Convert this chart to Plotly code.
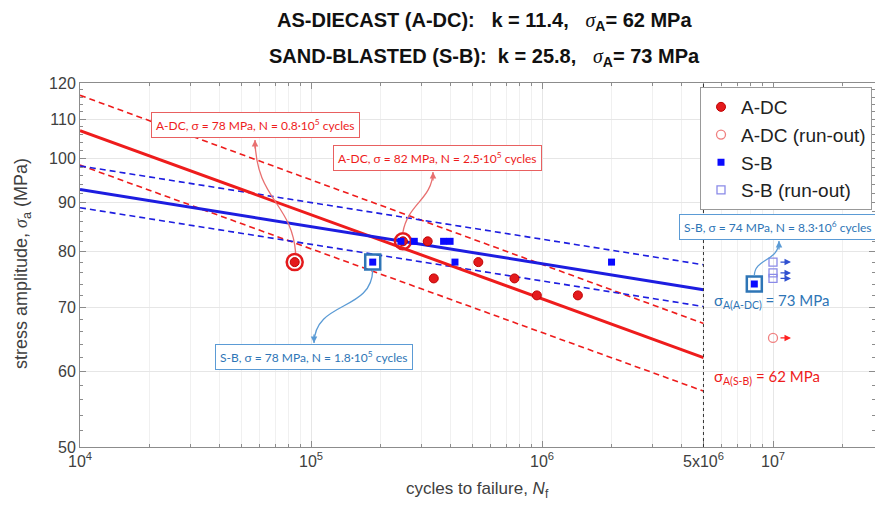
import math
import plotly.graph_objects as go

# ---------------- data ----------------
# fitted S-N lines (endpoints at N = 1e4 and N = 5e6)
N_line = [1e4, 5e6]
adc_mean = [107.0, 62.0]
adc_upper = [116.5, 67.3]
adc_lower = [98.5, 57.2]
sb_mean = [92.9, 73.0]
sb_upper = [98.3, 77.5]
sb_lower = [88.9, 70.1]

# A-DC failures
adc_N = [8.5e4, 2.5e5, 3.2e5, 3.4e5, 5.3e5, 7.6e5, 9.5e5, 1.43e6]
adc_S = [78, 82, 82, 75, 78, 75, 72, 72]
# A-DC run-outs
adc_ro_N = [1.0e7]
adc_ro_S = [65]
# S-B failures
sb_N = [1.85e5, 2.45e5, 2.8e5, 3.75e5, 4.0e5, 4.2e5, 2.0e6, 8.3e6]
sb_S = [78, 82, 82, 82, 82, 78, 78, 74]
# S-B run-outs
sb_ro_N = [1.0e7, 1.0e7, 1.0e7]
sb_ro_S = [78, 76, 75]

# highlighted specimens
adc_hl_N = [8.5e4, 2.5e5]
adc_hl_S = [78, 82]
sb_hl_N = [1.85e5, 8.3e6]
sb_hl_S = [78, 74]

x_ticks = [1e4, 1e5, 1e6, 5e6, 1e7]
x_ticktext = ["10<sup>4</sup>", "10<sup>5</sup>", "10<sup>6</sup>", "5x10<sup>6</sup>", "10<sup>7</sup>"]
y_ticks = [50, 60, 70, 80, 90, 100, 110, 120]

callout_texts = [
    "A-DC, σ = 78 MPa, N = 0.8·10<sup>5</sup> cycles",
    "A-DC, σ = 82 MPa, N = 2.5·10<sup>5</sup> cycles",
    "S-B, σ = 78 MPa, N = 1.8·10<sup>5</sup> cycles",
    "S-B, σ = 74 MPa, N = 8.3·10<sup>6</sup> cycles",
]

# ---------------- geometry / style ----------------
W, H = 875, 507
L, R, T, B = 80, 875, 83, 447
PX_PER_DEC_X = 231.0
X0 = 4.0
X1 = X0 + (R - L) / PX_PER_DEC_X
Y0, Y1 = math.log10(50), math.log10(120)

RED = "#ee1c1c"
RED_DOT = "#e41a1c"
BLUE = "#1d1de0"
SB_BLUE = "#0a0aff"
STEEL = "#2e75b6"
GRAY_TXT = "#404040"
AXIS_GRAY = "#8c8c8c"


def px_x(n):
    return L + (math.log10(n) - X0) / (X1 - X0) * (R - L)


def px_y(s):
    return B - (math.log10(s) - Y0) / (Y1 - Y0) * (B - T)


def pap_x(px):
    return (px - L) / (R - L)


def pap_y(py):
    return (B - py) / (B - T)


fig = go.Figure()

# lines
for ys, color, width, dash in [
    (adc_upper, RED, 1.6, "6px,4px"),
    (adc_lower, RED, 1.6, "6px,4px"),
    (sb_upper, BLUE, 1.6, "6px,4px"),
    (sb_lower, BLUE, 1.6, "6px,4px"),
    (adc_mean, RED, 3, "solid"),
    (sb_mean, BLUE, 3, "solid"),
]:
    fig.add_trace(go.Scatter(x=N_line, y=ys, mode="lines", showlegend=False,
                             hoverinfo="skip", line=dict(color=color, width=width, dash=dash)))

# rings around highlighted specimens (drawn under markers)
fig.add_trace(go.Scatter(x=adc_hl_N, y=adc_hl_S, mode="markers", showlegend=False,
                         marker=dict(symbol="circle-open", size=16, color=RED_DOT, line=dict(width=2.5))))
fig.add_trace(go.Scatter(x=sb_hl_N, y=sb_hl_S, mode="markers", showlegend=False,
                         marker=dict(symbol="square-open", size=15, color=STEEL, line=dict(width=2.5))))

# data markers
fig.add_trace(go.Scatter(x=adc_N, y=adc_S, mode="markers", name="A-DC",
                         marker=dict(symbol="circle", size=9, color=RED_DOT,
                                     line=dict(color="#c00000", width=1))))
fig.add_trace(go.Scatter(x=adc_ro_N, y=adc_ro_S, mode="markers", name="A-DC (run-out)",
                         marker=dict(symbol="circle-open", size=9, color="#f08080",
                                     line=dict(width=1.3))))
fig.add_trace(go.Scatter(x=sb_N, y=sb_S, mode="markers", name="S-B",
                         marker=dict(symbol="square", size=7, color=SB_BLUE)))
fig.add_trace(go.Scatter(x=sb_ro_N, y=sb_ro_S, mode="markers", name="S-B (run-out)",
                         marker=dict(symbol="square-open", size=8, color="#8a8ae8",
                                     line=dict(width=1.3))))

annotations = []
shapes = []

# run-out arrows
for n, s in zip(sb_ro_N, sb_ro_S):
    annotations.append(dict(x=math.log10(n), y=math.log10(s), xref="x", yref="y", text="",
                            showarrow=True, ax=-12, ay=0, xshift=18, arrowhead=2,
                            arrowsize=1, arrowwidth=1.3, arrowcolor="#3050d0"))
for n, s in zip(adc_ro_N, adc_ro_S):
    annotations.append(dict(x=math.log10(n), y=math.log10(s), xref="x", yref="y", text="",
                            showarrow=True, ax=-12, ay=0, xshift=18, arrowhead=2,
                            arrowsize=1, arrowwidth=1.3, arrowcolor="#ff2020"))

# 5x10^6 dotted vertical line
shapes.append(dict(type="line", xref="x", yref="paper", x0=5e6, x1=5e6, y0=0, y1=1,
                   line=dict(color="#333333", width=1, dash="dot")))

# callout boxes: (center px x, center px y, text color, border color)
box_pos = [(255, 125), (437, 158), (314, 357), (778, 227)]
box_col = [(RED, "#e86060"), (RED, "#e86060"), (STEEL, "#5b9bd5"), (STEEL, "#5b9bd5")]
for (cx, cy), (tc, bc), txt in zip(box_pos, box_col, callout_texts):
    annotations.append(dict(x=pap_x(cx), y=pap_y(cy), xref="paper", yref="paper", text=txt,
                            showarrow=False, xanchor="center", yanchor="middle",
                            font=dict(family="Lato", size=12, color=tc),
                            bgcolor="white", bordercolor=bc, borderwidth=1, borderpad=4))

# curved connectors from the specimen to its box
p = [(px_x(n), px_y(s)) for n, s in zip(adc_hl_N + sb_hl_N, adc_hl_S + sb_hl_S)]
curves = [
    ((p[0][0] + 1, p[0][1] - 9), (p[0][0] - 3, p[0][1] - 60), (256, 200), (255, 140), "#e87070", 10),
    ((p[1][0], p[1][1] - 9), (p[1][0] + 5, p[1][1] - 38), (432, 200), (433, 172), "#e87070", 10),
    ((p[2][0], p[2][1] + 8), (p[2][0] - 1, p[2][1] + 50), (315, 300), (314, 343), "#5b9bd5", -10),
    ((p[3][0], p[3][1] - 8), (p[3][0], p[3][1] - 26), (779, 262), (779, 241), "#5b9bd5", 10),
]
for st, c1, c2, en, col, ay in curves:
    path = "M {},{} C {},{} {},{} {},{}".format(
        pap_x(st[0]), pap_y(st[1]), pap_x(c1[0]), pap_y(c1[1]),
        pap_x(c2[0]), pap_y(c2[1]), pap_x(en[0]), pap_y(en[1]))
    shapes.append(dict(type="path", xref="paper", yref="paper", path=path,
                       line=dict(color=col, width=1.3)))
    annotations.append(dict(x=pap_x(en[0]), y=pap_y(en[1]), xref="paper", yref="paper", text="",
                            showarrow=True, ax=0, ay=ay, arrowhead=2, arrowsize=1,
                            arrowwidth=1.3, arrowcolor=col, standoff=0))

# sigma_A labels
annotations.append(dict(x=pap_x(712), y=pap_y(301), xref="paper", yref="paper",
                        text="σ<sub>A(A-DC)</sub> = 73 MPa", showarrow=False,
                        xanchor="left", yanchor="middle",
                        font=dict(family="Lato", size=15, color=STEEL)))
annotations.append(dict(x=pap_x(712), y=pap_y(377), xref="paper", yref="paper",
                        text="σ<sub>A(S-B)</sub> = 62 MPa", showarrow=False,
                        xanchor="left", yanchor="middle",
                        font=dict(family="Lato", size=15, color=RED)))

# title (two lines)
sig = "<span style='font-family:Liberation Serif;font-style:italic;font-weight:normal'>σ</span>"
sp = "\u00a0"
title1 = "<b>AS-DIECAST (A-DC):" + sp * 3 + "k = 11.4," + sp * 3 + "</b>" + sig + "<sub><b>A</b></sub><b>= 62 MPa</b>"
title2 = "<b>SAND-BLASTED (S-B):" + sp * 2 + "k = 25.8," + sp * 3 + "</b>" + sig + "<sub><b>A</b></sub><b>= 73 MPa</b>"
for txt, py in [(title1, 22), (title2, 57)]:
    annotations.append(dict(x=pap_x(484), y=pap_y(py), xref="paper", yref="paper", text=txt,
                            showarrow=False, xanchor="center", yanchor="middle",
                            font=dict(family="Liberation Sans", size=20, color="#111111")))

# axis titles
annotations.append(dict(x=pap_x(477), y=pap_y(490), xref="paper", yref="paper",
                        text="cycles to failure, <i>N</i><sub>f</sub>", showarrow=False,
                        xanchor="center", yanchor="middle",
                        font=dict(family="Liberation Sans", size=17, color=GRAY_TXT)))
annotations.append(dict(x=pap_x(22), y=pap_y(264), xref="paper", yref="paper",
                        text="stress amplitude, <span style='font-family:Liberation Serif;font-style:italic'>σ</span><sub>a</sub> (MPa)",
                        showarrow=False, textangle=-90, xanchor="center", yanchor="middle",
                        font=dict(family="Liberation Sans", size=18, color=GRAY_TXT)))

x_minor = [m * 10 ** e for e in range(4, 8) for m in range(2, 10)]
y_minor = [v for v in range(52, 120, 2) if v % 10 != 0]

fig.update_layout(
    width=W, height=H,
    margin=dict(l=L, r=W - R, t=T, b=H - B),
    paper_bgcolor="white", plot_bgcolor="white",
    font=dict(family="Liberation Sans", color=GRAY_TXT),
    showlegend=True,
    legend=dict(x=pap_x(700), y=pap_y(87), xanchor="left", yanchor="top",
                bgcolor="white", bordercolor="#999999", borderwidth=1,
                font=dict(family="Liberation Sans", size=19, color="#222222"),
                itemsizing="trace", tracegroupgap=0),
    annotations=annotations,
    shapes=shapes,
    xaxis=dict(type="log", range=[X0, X1], tickmode="array", tickvals=x_ticks,
               ticktext=x_ticktext, ticks="inside", ticklen=6, tickcolor=AXIS_GRAY,
               showline=True, linecolor=AXIS_GRAY, linewidth=1, mirror="ticks",
               showgrid=True, gridcolor="#e6e6e6", zeroline=False,
               tickfont=dict(size=16, color=GRAY_TXT),
               minor=dict(tickmode="array", tickvals=x_minor, ticks="inside", ticklen=3,
                          tickcolor=AXIS_GRAY, showgrid=True, gridcolor="#f0f0f0")),
    yaxis=dict(type="log", range=[Y0, Y1], tickmode="array", tickvals=y_ticks,
               ticktext=[str(v) for v in y_ticks], ticks="inside", ticklen=6,
               tickcolor=AXIS_GRAY, showline=True, linecolor=AXIS_GRAY, linewidth=1,
               mirror="ticks", showgrid=True, gridcolor="#e6e6e6", zeroline=False,
               tickfont=dict(size=16, color=GRAY_TXT),
               minor=dict(tickmode="array", tickvals=y_minor, ticks="inside", ticklen=3,
                          tickcolor=AXIS_GRAY, showgrid=False)),
)

fig.write_html("out.html", config={"displayModeBar": False},
               post_script="document.body.style.margin='0';document.body.style.overflow='hidden';")
